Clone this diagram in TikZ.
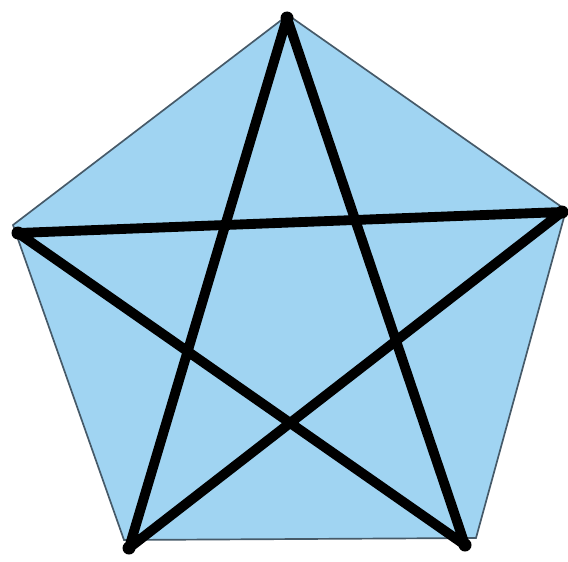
\documentclass[tikz,border=0pt]{standalone}
\usepackage{tikz}
\usetikzlibrary{calc}
\definecolor{pentafill}{RGB}{160,212,242}
\definecolor{pentaedge}{RGB}{70,90,105}
\tikzset{
  edgeline/.style={draw=pentaedge, line width=2.4pt, fill=pentafill, line join=miter},
  starline/.style={draw=black, line width=14pt, line cap=round, line join=round},
  vdot/.style={fill=black}
}
\begin{document}
\begin{tikzpicture}[x=0.05cm, y=-0.05cm]
  \useasboundingbox (0,0) rectangle (568,561);
  % outline of the pentagon
  \coordinate (pt) at (288,15);
  \coordinate (pr) at (566,210);
  \coordinate (pbr) at (476,538);
  \coordinate (pbl) at (124,540);
  \coordinate (pl) at (13,225);
  \path[edgeline] (pt) -- (pr) -- (pbr) -- (pbl) -- (pl) -- cycle;
  % star corners
  \coordinate (st) at (287,18);
  \coordinate (sr) at (562,212);
  \coordinate (sbr) at (465,545);
  \coordinate (sbl) at (129,548);
  \coordinate (sl) at (18,233);
  \draw[starline] (st) -- (sbl) -- (sr) -- (sl) -- (sbr) -- cycle;
  \foreach \v in {st,sr,sbr,sbl,sl} {
    \fill[vdot] (\v) circle (6.5);
  }
\end{tikzpicture}
\end{document}
